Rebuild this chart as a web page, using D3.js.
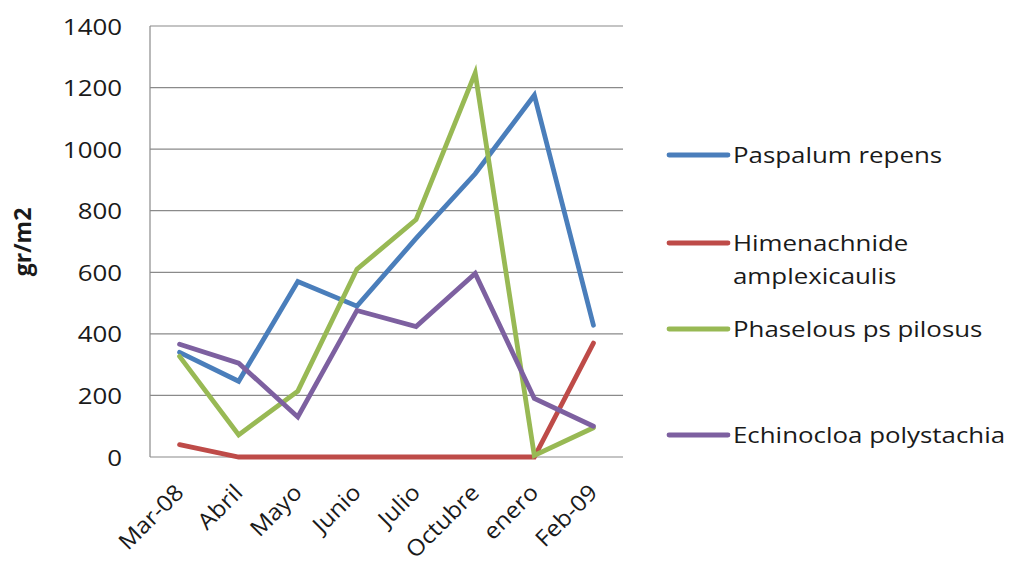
<!DOCTYPE html>
<html>
<head>
<meta charset="utf-8">
<script src="https://cdn.jsdelivr.net/npm/d3@7"></script>
<style>
  html, body { margin: 0; padding: 0; background: #fff; }
  svg text { font-family: "Open Sans", "Noto Sans", sans-serif; fill: #1a1a1a; }
</style>
</head>
<body>
<svg id="chart" width="1012" height="573"></svg>
<script>
// Months sampled
const categories = ["Mar-08", "Abril", "Mayo", "Junio", "Julio", "Octubre", "enero", "Feb-09"];

// Biomass per species (gr/m2)
const paspalum   = [340, 246, 570, 490, 710, 920, 1175, 428];
const himenach   = [40, 0, 0, 0, 0, 0, 0, 370];
const phaselous  = [327, 72, 214, 610, 771, 1247, 5, 95];
const echinocloa = [366, 305, 130, 476, 424, 596, 190, 100];

const yTicks = [0, 200, 400, 600, 800, 1000, 1200, 1400];

const series = [
  { name: ["Paspalum repens"], values: paspalum, color: "#4A7EBB" },
  { name: ["Himenachnide", "amplexicaulis"], values: himenach, color: "#BE4B48" },
  { name: ["Phaselous ps pilosus"], values: phaselous, color: "#98B954" },
  { name: ["Echinocloa polystachia"], values: echinocloa, color: "#7D60A0" }
];

const svg = d3.select("#chart");
const plot = { left: 150, top: 26, right: 623, bottom: 457 };
const fontSize = 22.5;
const stretch = 1.15;

const x = d3.scalePoint()
  .domain(categories)
  .range([plot.left, plot.right])
  .padding(0.5);

const y = d3.scaleLinear()
  .domain([0, 1400])
  .range([plot.bottom, plot.top]);

// Horizontal gridlines
svg.append("g")
  .selectAll("line")
  .data(yTicks)
  .join("line")
  .attr("x1", plot.left).attr("x2", plot.right)
  .attr("y1", d => y(d)).attr("y2", d => y(d))
  .attr("stroke", "#8a8a8a").attr("stroke-width", 1.2);

// Left axis line
svg.append("line")
  .attr("x1", plot.left).attr("x2", plot.left)
  .attr("y1", plot.top).attr("y2", plot.bottom)
  .attr("stroke", "#8a8a8a").attr("stroke-width", 1.2);

// Y axis labels
const yAxis = d3.axisLeft(y).tickValues(yTicks).tickFormat(d3.format("d")).tickSize(0).tickPadding(0);
const yg = svg.append("g").attr("transform", `translate(122,0)`).call(yAxis);
yg.select(".domain").remove();
yg.selectAll("text")
  .attr("font-size", fontSize)
  .attr("font-family", "Open Sans")
  .attr("fill", "#1a1a1a")
  .attr("dy", "0.36em")
  .attr("transform", `scale(${stretch},1)`);

// X axis labels (rotated)
const xAxis = d3.axisBottom(x).tickSize(0).tickPadding(0);
const xg = svg.append("g").attr("transform", `translate(0,${plot.bottom})`).call(xAxis);
xg.select(".domain").remove();
xg.selectAll("text")
  .attr("font-size", fontSize)
  .attr("font-family", "Open Sans")
  .attr("fill", "#1a1a1a")
  .attr("text-anchor", "end")
  .attr("dy", 0)
  .attr("transform", "translate(5,37) rotate(-45) scale(1.08,1)");

// Y axis title
svg.append("text")
  .attr("transform", "translate(31,242) rotate(-90)")
  .attr("text-anchor", "middle")
  .attr("font-size", 23)
  .attr("font-weight", "bold")
  .text("gr/m2");

// Series lines
const line = d3.line()
  .x((d, i) => x(categories[i]))
  .y(d => y(d));

svg.append("g")
  .selectAll("path")
  .data(series)
  .join("path")
  .attr("d", d => line(d.values))
  .attr("fill", "none")
  .attr("stroke", d => d.color)
  .attr("stroke-width", 4.8)
  .attr("stroke-linejoin", "miter")
  .attr("stroke-linecap", "round");

// Legend
const legendY = [155, 243, 329, 435];
const lg = svg.append("g");
series.forEach((s, i) => {
  const yy = legendY[i];
  lg.append("line")
    .attr("x1", 669).attr("x2", 728)
    .attr("y1", yy).attr("y2", yy)
    .attr("stroke", s.color).attr("stroke-width", 4.8)
    .attr("stroke-linecap", "round");
  const t = lg.append("text")
    .attr("transform", `translate(733,${yy + 8}) scale(${stretch},1)`)
    .attr("font-size", fontSize);
  s.name.forEach((part, k) => {
    t.append("tspan").attr("x", 0).attr("dy", k === 0 ? 0 : 33).text(part);
  });
});
</script>
</body>
</html>
